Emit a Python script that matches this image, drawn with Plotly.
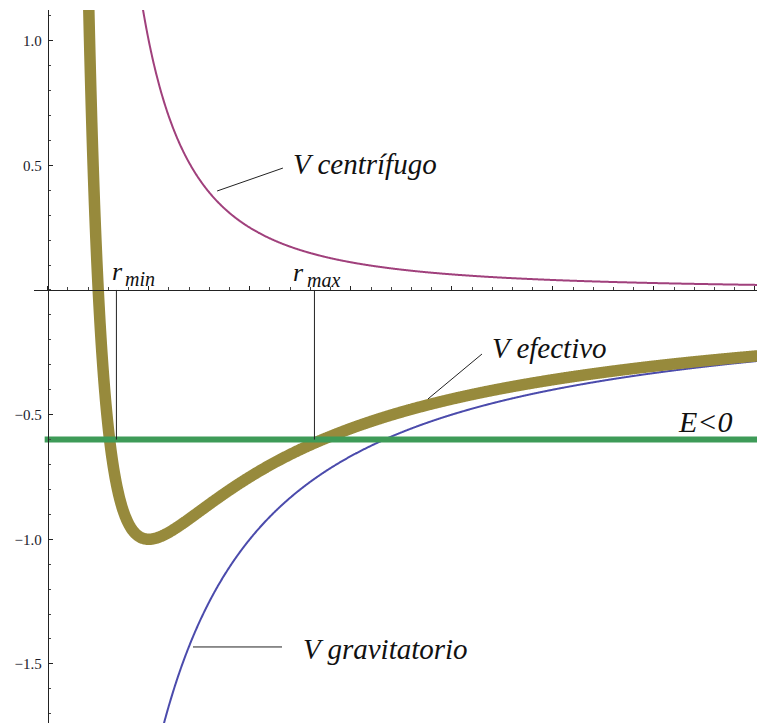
import numpy as np
import plotly.graph_objects as go

# Potential model: V_grav = -K/r, V_cent = L2/r^2, V_eff = V_grav + V_cent
GRAV_K = 2.0
CENT_L2 = 1.0
ENERGY = -0.6                 # bound-orbit energy level (E < 0)
R_TURNING = [0.68, 2.64]      # marked turning points r_min, r_max

X_RANGE = [-0.1356, 7.02]
Y_RANGE = [-1.737, 1.123]
Y_TICKS = [-1.5, -1.0, -0.5, 0.5, 1.0]
Y_TICK_LABELS = ["\u22121.5", "\u22121.0", "\u22120.5", "0.5", "1.0"]

COL_CENT = "#A0407C"
COL_GRAV = "#4B4BAC"
COL_EFF = "#978A3C"
COL_E = "#3E9B58"

r = np.linspace(0.3, 7.1, 1500)
v_grav = -GRAV_K / r
v_cent = CENT_L2 / r**2
v_eff = v_grav + v_cent

fig = go.Figure()
fig.add_trace(go.Scatter(x=r, y=v_cent, mode="lines",
                         line=dict(color=COL_CENT, width=2, simplify=False), hoverinfo="skip"))
fig.add_trace(go.Scatter(x=r, y=v_grav, mode="lines",
                         line=dict(color=COL_GRAV, width=2, simplify=False), hoverinfo="skip"))
fig.add_trace(go.Scatter(x=r, y=v_eff, mode="lines",
                         line=dict(color=COL_EFF, width=11.5, simplify=False), hoverinfo="skip"))
fig.add_trace(go.Scatter(x=[-0.03, X_RANGE[1]], y=[ENERGY, ENERGY], mode="lines",
                         line=dict(color=COL_E, width=6), hoverinfo="skip"))

# vertical markers from the axis down to the energy level
for rt in R_TURNING:
    fig.add_trace(go.Scatter(x=[rt, rt], y=[0, ENERGY], mode="lines",
                             line=dict(color="#222222", width=1), hoverinfo="skip"))

# leader lines for the curve labels
leaders = [
    (1.677, 0.397, 2.328, 0.489),
    (3.764, -0.437, 4.298, -0.257),
    (1.438, -1.432, 2.319, -1.432),
]
for x0, y0, x1, y1 in leaders:
    fig.add_shape(type="line", xref="x", yref="y", x0=x0, y0=y0, x1=x1, y1=y1,
                  line=dict(color="#222222", width=1))

SERIF = "'Liberation Serif', 'Times New Roman', Times, serif"


def label(text, x, y, size):
    fig.add_annotation(x=x, y=y, xref="x", yref="y", text=f"<i>{text}</i>",
                       showarrow=False, xanchor="left", yanchor="middle",
                       borderpad=0, borderwidth=0,
                       font=dict(family=SERIF, size=size, color="#111111"))


label("V centrífugo", 2.428, 0.505, 29)
label("V efectivo", 4.397, -0.233, 29)
label("V gravitatorio", 2.527, -1.440, 29)
label("E&lt;0", 6.238, -0.529, 30)
label("r", 0.636, 0.076, 26)
label("min", 0.765, 0.044, 20)
label("r", 2.428, 0.072, 26)
label("max", 2.567, 0.040, 20)

fig.update_layout(
    width=757, height=723,
    margin=dict(l=34, r=0, t=10, b=0),
    paper_bgcolor="white", plot_bgcolor="white",
    showlegend=False,
    font=dict(family=SERIF),
    xaxis=dict(range=X_RANGE, anchor="free",
               position=(0 - Y_RANGE[0]) / (Y_RANGE[1] - Y_RANGE[0]),
               showgrid=False, zeroline=False, showline=True,
               linecolor="#222222", linewidth=1,
               ticks="inside", tick0=0, dtick=1, ticklen=4, tickcolor="#222222",
               showticklabels=False,
               minor=dict(ticks="inside", dtick=0.2, ticklen=2.5, tickcolor="#444444"),
               automargin=False),
    yaxis=dict(range=Y_RANGE, anchor="free",
               position=(0 - X_RANGE[0]) / (X_RANGE[1] - X_RANGE[0]),
               showgrid=False, zeroline=False, showline=True,
               linecolor="#222222", linewidth=1,
               ticks="inside", tickvals=Y_TICKS, ticktext=Y_TICK_LABELS,
               ticklen=4, tickcolor="#222222",
               minor=dict(ticks="inside", tickvals=[round(-1.7 + 0.1 * i, 1) for i in range(29)],
                          ticklen=2.5, tickcolor="#444444"),
               tickfont=dict(family=SERIF, size=15, color="#1a1a2a"),
               ticklabelstandoff=3,
               automargin=False),
)

fig.write_html("out.html")
